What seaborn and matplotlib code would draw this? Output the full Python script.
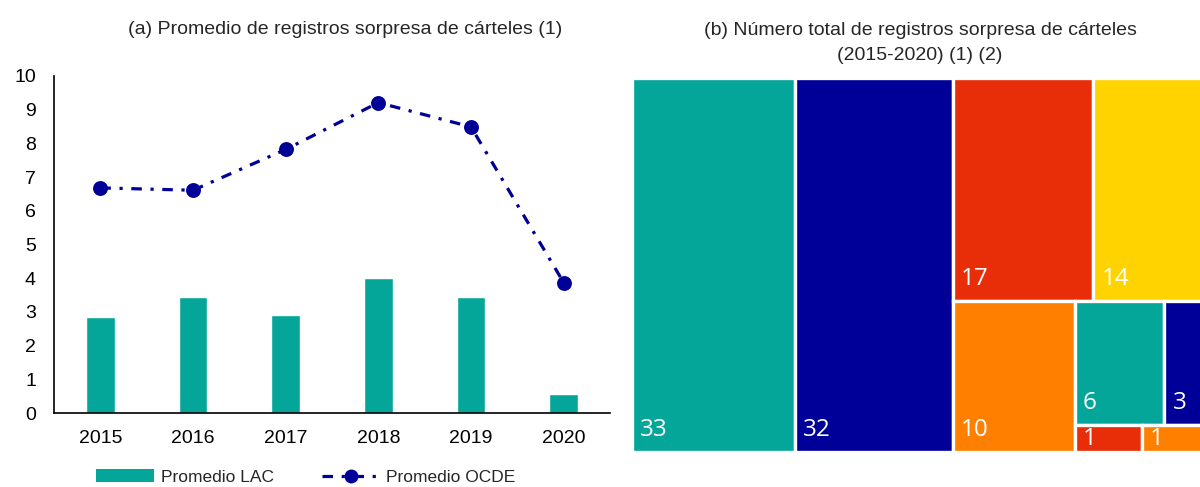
import numpy as np
import pandas as pd
import matplotlib
matplotlib.use("Agg")
import matplotlib.pyplot as plt
import seaborn as sns
from matplotlib.patches import Rectangle, Patch
from matplotlib.lines import Line2D

# ---------------- data ----------------
years = ["2015", "2016", "2017", "2018", "2019", "2020"]
lac_avg = [2.85, 3.45, 2.90, 4.00, 3.45, 0.56]
ocde_avg = [6.68, 6.61, 7.82, 9.21, 8.49, 3.87]
y_ticks = [0, 1, 2, 3, 4, 5, 6, 7, 8, 9, 10]

tree_values = [33, 32, 17, 14, 10, 6, 3, 1, 1]
tree_labels = ["33", "32", "17", "14", "10", "6", "3", "1", "1"]
TEAL, NAVY, RED, YELLOW, ORANGE = "#05A69A", "#000099", "#E72E08", "#FFD300", "#FF8000"
tree_colors = [TEAL, NAVY, RED, YELLOW, ORANGE, TEAL, NAVY, RED, ORANGE]
# nesting of tiles (alternating horizontal / vertical splits)
tree_struct = [0, 1, [[2, 3], [4, [[5, 6], [7, 8]]]]]

title_a = "(a) Promedio de registros sorpresa de cárteles (1)"
title_b = "(b) Número total de registros sorpresa de cárteles\n(2015-2020) (1) (2)"
legend_labels = ["Promedio LAC", "Promedio OCDE"]

# ---------------- style ----------------
sns.set_theme(style="white")
plt.rcParams["font.family"] = ["Liberation Sans", "DejaVu Sans"]

W, H = 1200, 487
fig = plt.figure(figsize=(W / 100, H / 100), dpi=100)

# ---------------- panel (a) ----------------
ax = fig.add_axes([54 / W, 1 - 413 / H, 556 / W, 337 / H])
df = pd.DataFrame({"year": years, "lac": lac_avg, "ocde": ocde_avg})
sns.barplot(data=df, x="year", y="lac", color=TEAL, saturation=1, width=0.31,
            order=years, ax=ax, errorbar=None)
sns.pointplot(data=df, x="year", y="ocde", order=years, color=NAVY, ax=ax,
              errorbar=None, markers="o", linestyles=(0, (3.3, 2.7, 1.0, 2.7)),
              markersize=9, linewidth=2.3)
ax.set_xlim(-0.5, 5.5)
ax.set_ylim(0, 10)
ax.set_yticks(y_ticks)
ax.set_xlabel("")
ax.set_ylabel("")
for s in ["top", "right"]:
    ax.spines[s].set_visible(False)
for s in ["left", "bottom"]:
    ax.spines[s].set_color("black")
    ax.spines[s].set_linewidth(1.2)
ax.tick_params(axis="both", length=0, labelsize=14, colors="black")
ax.tick_params(axis="x", pad=12)
ax.tick_params(axis="y", pad=13)

fig.text(345 / W, 1 - 30 / H, title_a, ha="center", va="center", fontsize=14)

handles = [Patch(facecolor=TEAL, edgecolor="none"),
           Line2D([], [], color=NAVY, linestyle=(0, (3.3, 2.7, 1.0, 2.7)), linewidth=2.3,
                  marker="o", markersize=9)]
leg = fig.legend(handles, legend_labels, loc="center", bbox_to_anchor=(306 / W, 1 - 477 / H),
                 ncol=2, frameon=False, fontsize=12.5, handlelength=3.3, columnspacing=2.8,
                 handletextpad=0.4)

# ---------------- panel (b) treemap ----------------
tax = fig.add_axes([632 / W, 1 - 452 / H, 577 / W, 374 / H])
tax.set_xlim(0, 1)
tax.set_ylim(0, 1)
tax.axis("off")


def total(node):
    return tree_values[node] if isinstance(node, int) else sum(total(c) for c in node)


def layout(node, x, y, w, h, horiz, out):
    if isinstance(node, int):
        out.append((node, x, y, w, h))
        return
    s = total(node)
    if horiz:
        cx = x
        for c in node:
            cw = w * total(c) / s
            layout(c, cx, y, cw, h, not horiz, out)
            cx += cw
    else:
        cy = y + h
        for c in node:
            ch = h * total(c) / s
            cy -= ch
            layout(c, x, cy, w, ch, not horiz, out)


tiles = []
layout(tree_struct, 0, 0, 1, 1, True, tiles)
ax_h_px = 374
for idx, x, y, w, h in tiles:
    r = Rectangle((x, y), w, h, facecolor=tree_colors[idx], edgecolor="white", linewidth=2.4)
    tax.add_patch(r)
    if h * ax_h_px > 45:
        t = tax.annotate(tree_labels[idx], xy=(x, y), xytext=(6, 7), textcoords="offset points",
                         ha="left", va="bottom", color="white", fontsize=17.5, family="Open Sans")
    else:
        t = tax.annotate(tree_labels[idx], xy=(x, y + h), xytext=(6, -2), textcoords="offset points",
                         ha="left", va="top", color="white", fontsize=17.5, family="Open Sans")
    t.set_clip_path(r)

fig.text(920 / W, 1 - 43 / H, title_b, ha="center", va="center", fontsize=14, linespacing=1.55)

fig.savefig("out.png", dpi=100)
